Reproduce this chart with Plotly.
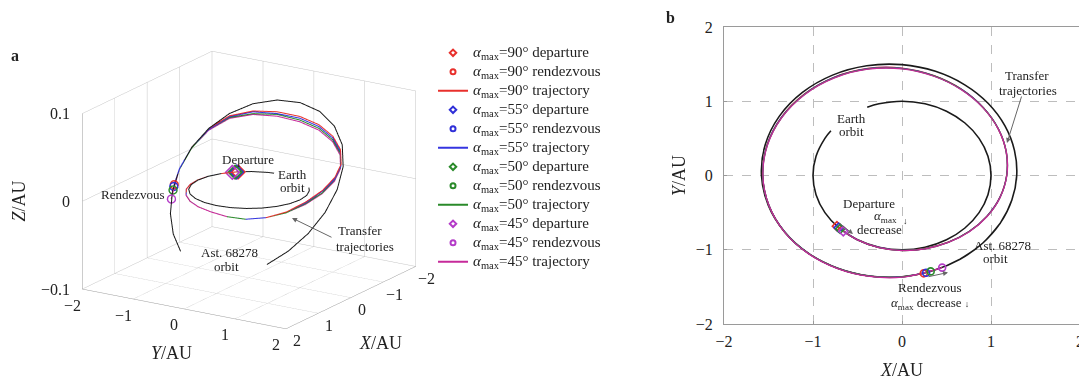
import math
import plotly.graph_objects as go

FONT = "Liberation Serif"
PAGE_W, PAGE_H = 1087, 382
BODY = 8                       # default page margin around the plot div
W, H = PAGE_W - BODY, PAGE_H - BODY

# ---------------- data ----------------
ALPHA_LABELS = ["90", "55", "50", "45"]
MARKER_COLORS = ["#e8302c", "#3030d8", "#2a8a2a", "#b43cc8"]
LINE_COLORS = ["#e8302c", "#3535e0", "#2a8a2a", "#c62a9a"]

# Earth orbit (r = 1 AU, z = 0); the two panels leave a gap for the label
EARTH_R = 1.0
EARTH_A_DEG = [188, 195, 210, 225, 240, 255, 270, 285, 300, 315, 330, 345, 360, 375, 390,
               405, 420, 435, 450, 465, 480, 490]
EARTH_B_DEG = [143, 150, 165, 180, 195, 210, 225, 240, 255, 270, 285, 300, 315, 330, 345,
               360, 375, 390, 405, 420, 435, 450, 465, 473]

# Asteroid 68278 orbit (polar samples)
AST_DEG = [0, 15, 30, 45, 60, 75, 90, 105, 120, 135, 150, 165, 180, 195, 210, 225, 240,
           255, 270, 285, 300, 315, 330, 345]
AST_R = [1.289, 1.308, 1.336, 1.371, 1.410, 1.452, 1.493, 1.530, 1.561, 1.582, 1.593, 1.592,
         1.579, 1.555, 1.522, 1.484, 1.442, 1.401, 1.363, 1.329, 1.303, 1.285, 1.277, 1.278]
AST_Z = [-0.0715, -0.0713, -0.0663, -0.0567, -0.0433, -0.0270, -0.0088, 0.0100, 0.0281,
         0.0443, 0.0575, 0.0668, 0.0715, 0.0713, 0.0663, 0.0567, 0.0433, 0.0270, 0.0088,
         -0.0100, -0.0281, -0.0443, -0.0575, -0.0668]
AST_A_IDX = list(range(3, 23))                       # 45 deg .. 330 deg
AST_B_IDX = [20, 21, 22, 23] + list(range(0, 23))    # 300 deg .. 330 deg (+360)

# Transfer trajectories (common interior angles, per-alpha radius / height)
TR_DEG = [240, 255, 270, 285, 300, 315, 330, 345, 360, 375, 390, 405, 420, 435, 450, 465,
          480, 495, 510, 525, 540, 555, 570, 585, 600, 615, 630]
TR_R = {
    "90": [1.000, 1.003, 1.008, 1.018, 1.037, 1.066, 1.100, 1.138, 1.175, 1.212, 1.250, 1.292,
           1.340, 1.392, 1.446, 1.492, 1.528, 1.552, 1.566, 1.572, 1.566, 1.550, 1.523, 1.486,
           1.444, 1.403, 1.365],
    "55": [1.000, 1.003, 1.009, 1.019, 1.038, 1.067, 1.101, 1.139, 1.176, 1.213, 1.251, 1.292,
           1.339, 1.390, 1.443, 1.489, 1.525, 1.549, 1.564, 1.570, 1.565, 1.549, 1.522, 1.486,
           1.444, 1.403, 1.365],
    "50": [1.000, 1.004, 1.010, 1.020, 1.039, 1.068, 1.102, 1.140, 1.177, 1.214, 1.251, 1.291,
           1.337, 1.388, 1.440, 1.486, 1.522, 1.547, 1.562, 1.568, 1.564, 1.548, 1.522, 1.486,
           1.444, 1.404, 1.366],
    "45": [1.001, 1.005, 1.011, 1.022, 1.041, 1.070, 1.104, 1.141, 1.178, 1.214, 1.250, 1.289,
           1.334, 1.384, 1.436, 1.482, 1.518, 1.544, 1.560, 1.566, 1.563, 1.548, 1.523, 1.488,
           1.447, 1.407, 1.370],
}
TR_Z = {
    "90": [0.000, 0.000, 0.000, 0.000, 0.000, -0.001, -0.002, -0.003, -0.004, -0.006, -0.007,
           -0.005, 0.000, 0.008, 0.016, 0.024, 0.031, 0.039, 0.046, 0.052, 0.056, 0.058,
           0.058, 0.054, 0.043, 0.027, 0.009],
    "55": [0.000, 0.000, 0.000, 0.000, 0.000, -0.001, -0.002, -0.003, -0.004, -0.006, -0.007,
           -0.005, 0.000, 0.007, 0.015, 0.022, 0.029, 0.037, 0.044, 0.050, 0.054, 0.056,
           0.057, 0.053, 0.042, 0.027, 0.009],
    "50": [0.000, 0.000, 0.000, 0.000, 0.000, -0.001, -0.002, -0.003, -0.004, -0.006, -0.007,
           -0.005, -0.001, 0.006, 0.013, 0.021, 0.028, 0.035, 0.042, 0.048, 0.052, 0.055,
           0.055, 0.052, 0.042, 0.026, 0.008],
    "45": [0.000, 0.000, 0.000, 0.000, 0.000, -0.001, -0.002, -0.003, -0.004, -0.006, -0.007,
           -0.005, -0.001, 0.005, 0.012, 0.019, 0.026, 0.033, 0.040, 0.046, 0.050, 0.053,
           0.054, 0.051, 0.041, 0.026, 0.008],
}
DEP_DEG = [223.0, 224.6, 226.0, 228.7]
RDV_DEG = [280.5, 281.7, 284.0, 290.0]
RDV_R = [1.340, 1.337, 1.331, 1.320]
RDV_Z = [-0.0044, -0.0059, -0.0088, -0.0162]

AXIS_TICKS = [-2, -1, 0, 1, 2]
AXIS_TICK_TEXT = ["−2", "−1", "0", "1", "2"]
Z_TICKS = [-0.1, 0.0, 0.1]
Z_TICK_TEXT = ["−0.1", "0", "0.1"]


def pol2xy(degs, rs):
    xs = [r * math.cos(math.radians(d)) for d, r in zip(degs, rs)]
    ys = [r * math.sin(math.radians(d)) for d, r in zip(degs, rs)]
    return xs, ys


def px2paper_x(px):
    return (px - BODY) / W


def px2paper_y(py):
    return 1 - (py - BODY) / H


fig = go.Figure()
BLACK = "#1a1a1a"

# ---------------- panel a (3D) ----------------
ex, ey = pol2xy(EARTH_A_DEG, [EARTH_R] * len(EARTH_A_DEG))
fig.add_trace(go.Scatter3d(x=ex, y=ey, z=[0.0] * len(ex), mode="lines",
                           line=dict(color=BLACK, width=2), showlegend=False, hoverinfo="skip"))
ax_, ay_ = pol2xy([AST_DEG[i] for i in AST_A_IDX], [AST_R[i] for i in AST_A_IDX])
fig.add_trace(go.Scatter3d(x=ax_, y=ay_, z=[AST_Z[i] for i in AST_A_IDX], mode="lines",
                           line=dict(color=BLACK, width=2), showlegend=False, hoverinfo="skip"))

LEG_SPAN = "<span style='font-size:15px'>{}</span>"
for k, a in enumerate(ALPHA_LABELS):
    name = "<i>α</i><sub>max</sub>=" + a + "°"
    degs = [DEP_DEG[k]] + TR_DEG + [RDV_DEG[k] + 360]
    rs = [EARTH_R] + TR_R[a] + [RDV_R[k]]
    zs = [0.0] + TR_Z[a] + [RDV_Z[k]]
    tx, ty = pol2xy(degs, rs)
    dx, dy = pol2xy([DEP_DEG[k]], [EARTH_R])
    rx, ry = pol2xy([RDV_DEG[k]], [RDV_R[k]])
    fig.add_trace(go.Scatter3d(x=dx, y=dy, z=[0.0], mode="markers",
                               name=LEG_SPAN.format(name + " departure"),
                               marker=dict(symbol="diamond-open", size=5, color=MARKER_COLORS[k],
                                           line=dict(color=MARKER_COLORS[k], width=2)),
                               legendgroup="d" + a, hoverinfo="skip"))
    fig.add_trace(go.Scatter3d(x=rx, y=ry, z=[RDV_Z[k]], mode="markers",
                               name=LEG_SPAN.format(name + " rendezvous"),
                               marker=dict(symbol="circle-open", size=5, color=MARKER_COLORS[k],
                                           line=dict(color=MARKER_COLORS[k], width=2)),
                               legendgroup="r" + a, hoverinfo="skip"))
    fig.add_trace(go.Scatter3d(x=tx, y=ty, z=zs, mode="lines",
                               name=LEG_SPAN.format(name + " trajectory"),
                               line=dict(color=LINE_COLORS[k], width=2),
                               legendgroup="t" + a, hoverinfo="skip"))

# ---------------- panel b (2D) ----------------
ex, ey = pol2xy(EARTH_B_DEG, [EARTH_R] * len(EARTH_B_DEG))
fig.add_trace(go.Scatter(x=ex, y=ey, mode="lines", line=dict(color=BLACK, width=1.6, shape="spline"),
                         showlegend=False, hoverinfo="skip", xaxis="x", yaxis="y"))
bx, by = pol2xy([AST_DEG[i] for i in AST_B_IDX], [AST_R[i] for i in AST_B_IDX])
fig.add_trace(go.Scatter(x=bx, y=by, mode="lines", line=dict(color=BLACK, width=1.6, shape="spline"),
                         showlegend=False, hoverinfo="skip"))
for k, a in enumerate(ALPHA_LABELS):
    degs = [DEP_DEG[k]] + TR_DEG + [RDV_DEG[k] + 360]
    rs = [EARTH_R] + TR_R[a] + [RDV_R[k]]
    tx, ty = pol2xy(degs, rs)
    fig.add_trace(go.Scatter(x=tx, y=ty, mode="lines", line=dict(color=LINE_COLORS[k], width=1.3, shape="spline"),
                             showlegend=False, hoverinfo="skip"))
for k, a in enumerate(ALPHA_LABELS):
    dx, dy = pol2xy([DEP_DEG[k]], [EARTH_R])
    rx, ry = pol2xy([RDV_DEG[k]], [RDV_R[k]])
    fig.add_trace(go.Scatter(x=dx, y=dy, mode="markers", showlegend=False, hoverinfo="skip",
                             marker=dict(symbol="diamond-open", size=7, color=MARKER_COLORS[k],
                                         line=dict(width=1.6))))
    fig.add_trace(go.Scatter(x=rx, y=ry, mode="markers", showlegend=False, hoverinfo="skip",
                             marker=dict(symbol="circle-open", size=7, color=MARKER_COLORS[k],
                                         line=dict(width=1.6))))

# ---------------- layout ----------------
GRID = "#bdbdbd"
AXC = "#9a9a9a"
TXT = "#222"
ax3 = dict(showbackground=False, gridcolor="#c4c4c4", gridwidth=1, showline=True,
           linecolor=AXC, linewidth=1, zeroline=False, showspikes=False,
           ticks="", showticklabels=False, title=dict(text=""))

ax2 = dict(range=[-2, 2], tickvals=AXIS_TICKS, ticktext=AXIS_TICK_TEXT, showgrid=True, gridcolor=GRID,
           griddash="dash", gridwidth=1, zeroline=False, showline=True, linecolor=AXC,
           linewidth=1, mirror=True, ticks="inside", ticklen=3, tickcolor=AXC,
           tickfont=dict(family=FONT, size=16, color=TXT))

# tick labels / titles of the 3D box, anchored to the box edges in data coordinates
scene_ann = []
for v, t in zip(AXIS_TICKS, AXIS_TICK_TEXT):
    scene_ann.append(dict(x=2, y=v, z=-0.1, text=t, showarrow=False, xshift=-10, yshift=-16,
                          font=dict(family=FONT, size=16, color=TXT)))
    scene_ann.append(dict(x=v, y=2, z=-0.1, text=t, showarrow=False, xshift=11, yshift=-12,
                          font=dict(family=FONT, size=16, color=TXT)))
for v, t in zip(Z_TICKS, Z_TICK_TEXT):
    scene_ann.append(dict(x=2, y=-2, z=v, text=t, showarrow=False, xanchor="right", xshift=-10,
                          font=dict(family=FONT, size=16, color=TXT)))
scene_ann.append(dict(x=2, y=0, z=-0.1, text="<i>Y</i>/AU", showarrow=False, xshift=-13, yshift=-44,
                      font=dict(family=FONT, size=18, color=TXT)))
scene_ann.append(dict(x=0, y=2, z=-0.1, text="<i>X</i>/AU", showarrow=False, xshift=30, yshift=-45,
                      font=dict(family=FONT, size=18, color=TXT)))
scene_ann.append(dict(x=2, y=-2, z=0, text="<i>Z</i>/AU", showarrow=False, xshift=-63, textangle=-90,
                      font=dict(family=FONT, size=18, color=TXT)))

ASPECT_XY = 1.327
ASPECT_Z = 1.013
fig.update_layout(
    width=W, height=H, margin=dict(l=0, r=0, t=0, b=0, autoexpand=False),
    paper_bgcolor="white", plot_bgcolor="white",
    font=dict(family=FONT, size=13, color=TXT),
    hovermode=False,
    legend=dict(x=0.3939, y=0.919, xanchor="left", yanchor="top", bgcolor="rgba(0,0,0,0)",
                font=dict(family=FONT, size=11.3, color=TXT), tracegroupgap=0, itemwidth=30),
    scene=dict(
        domain=dict(x=[0.0, 0.4467], y=[0.0267, 1.0]),
        xaxis=dict(range=[-2, 2], tickvals=AXIS_TICKS, **ax3),
        yaxis=dict(range=[-2, 2], tickvals=AXIS_TICKS, **ax3),
        zaxis=dict(range=[-0.1, 0.1], tickvals=Z_TICKS, **ax3),
        aspectmode="manual", aspectratio=dict(x=ASPECT_XY, y=ASPECT_XY, z=ASPECT_Z),
        camera=dict(eye=dict(x=0.802 * 1.9, y=0.511 * 1.9, z=0.306 * 1.9),
                    up=dict(x=0, y=0, z=1), center=dict(x=0, y=0, z=0),
                    projection=dict(type="orthographic")),
        bgcolor="white",
        annotations=scene_ann,
    ),
    xaxis=dict(domain=[px2paper_x(724), px2paper_x(1080)], anchor="y", ticklabelstandoff=3,
               title=dict(text="<i>X</i>/AU", font=dict(family=FONT, size=18), standoff=14), **ax2),
    yaxis=dict(domain=[px2paper_y(324), px2paper_y(27)], anchor="x", ticklabelstandoff=7,
               title=dict(text="<i>Y</i>/AU", font=dict(family=FONT, size=18), standoff=5), **ax2),
)


def px_ann(x, y, text, size=13, **kw):
    d = dict(x=px2paper_x(x), y=px2paper_y(y), xref="paper", yref="paper", text=text,
             showarrow=False, font=dict(family=FONT, size=size, color=TXT),
             xanchor="center", yanchor="middle")
    d.update(kw)
    fig.add_annotation(**d)


def px_arrow(x0, y0, x1, y1):
    fig.add_annotation(x=px2paper_x(x1), y=px2paper_y(y1), xref="paper", yref="paper", text="",
                       showarrow=True, ax=x0 - x1, ay=y0 - y1, arrowhead=2, arrowsize=1,
                       arrowwidth=1, arrowcolor="#666")


AMAX = "<i>α</i><sub>max</sub>"
# panel labels
px_ann(15, 55, "<b>a</b>", size=16)
px_ann(670, 18, "<b>b</b>", size=16)
# panel a labels
px_ann(248, 159, "Departure")
px_ann(292, 174, "Earth")
px_ann(292, 187, "orbit")
px_ann(133, 194, "Rendezvous")
px_ann(360, 230, "Transfer")
px_ann(365, 246, "trajectories")
px_arrow(333, 238, 292, 218)
px_ann(229, 252, "Ast. 68278")
px_ann(226, 266, "orbit")
# panel b labels
px_ann(851, 118, "Earth")
px_ann(851, 131, "orbit")
px_ann(1027, 75, "Transfer")
px_ann(1028, 90, "trajectories")
px_arrow(1022, 95, 1007, 143)
px_ann(869, 203, "Departure")
px_ann(885, 216, AMAX)
px_ann(879, 229, "decrease")
px_ann(905, 221, "↓", size=9)
px_arrow(838, 222, 853, 234)
px_ann(1002, 245, "Ast. 68278")
px_ann(995, 258, "orbit")
px_ann(930, 287, "Rendezvous")
px_ann(930, 303, AMAX + " decrease <span style='font-size:9px'>↓</span>")
px_arrow(927, 277, 948, 272.5)

fig.write_html("out.html")
